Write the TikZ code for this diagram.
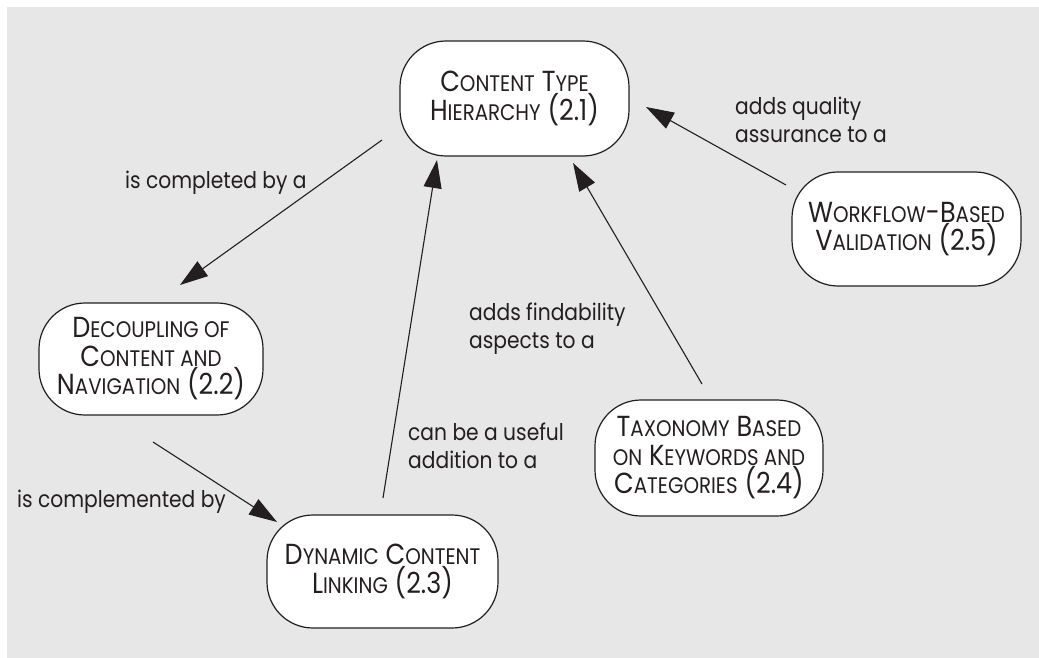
\documentclass[tikz,border=0pt]{standalone}
\usepackage{fontspec}
\setmainfont{Poppins}[FakeStretch=0.88]
\usetikzlibrary{arrows.meta}
\definecolor{panel}{HTML}{E6E7E6}
\definecolor{ink}{HTML}{231F20}
% small capitals built from a reduced upper-case size
\newcommand\lc[1]{{\fontsize{22.5bp}{22.5bp}\selectfont #1}}

\begin{document}
\begin{tikzpicture}[x=1bp,y=-1bp,
  topic/.style={draw=ink, line width=1.2bp, fill=white, rounded corners=46bp,
    align=center, inner sep=0pt, text=ink,
    font=\fontsize{29bp}{28.5bp}\selectfont},
  link/.style={draw=ink, line width=1.1bp, -{Triangle[length=28bp,width=18bp]}},
  lbl/.style={font=\fontsize{23bp}{28bp}\selectfont, text=ink, align=left,
    inner sep=0pt, anchor=north west}]
\useasboundingbox (0,0) rectangle (1039,658);
\fill[white] (0,0) rectangle (1039,658);
\fill[panel] (7,7) rectangle (1039,658);

% topics
\node[topic, minimum width=229bp, minimum height=115bp] (cth) at (514.5,98.5)
  {C\lc{ONTENT} T\lc{YPE}\\H\lc{IERARCHY} (2.1)};
\node[topic, minimum width=229bp, minimum height=114bp] (wbv) at (906.5,229)
  {W\lc{ORKFLOW}-B\lc{ASED}\\V\lc{ALIDATION} (2.5)};
\node[topic, minimum width=224bp, minimum height=112bp] (dec) at (151,359)
  {D\lc{ECOUPLING OF}\\C\lc{ONTENT AND}\\N\lc{AVIGATION} (2.2)};
\node[topic, minimum width=231bp, minimum height=113bp] (dcl) at (382.5,571.5)
  {D\lc{YNAMIC} C\lc{ONTENT}\\L\lc{INKING} (2.3)};
\node[topic, minimum width=228bp, minimum height=116bp] (tax) at (709,458)
  {T\lc{AXONOMY} B\lc{ASED}\\\lc{ON} K\lc{EYWORDS AND}\\C\lc{ATEGORIES} (2.4)};

% relations
\draw[link] ([shift={(-132.5,41.5)}]cth.center) -- ([shift={(29,-74)}]dec.center);
\draw[link] ([shift={(2,83)}]dec.center) -- ([shift={(-105.5,-49.5)}]dcl.center);
\draw[link] ([shift={(0.5,-73.5)}]dcl.center) -- ([shift={(-77.5,61.5)}]cth.center);
\draw[link] ([shift={(-7,-74)}]tax.center) -- ([shift={(58.5,64.5)}]cth.center);
\draw[link] ([shift={(-120.5,-44)}]wbv.center) -- ([shift={(131.5,8.5)}]cth.center);

% relation labels
\node[lbl] (l1) at (125,171) {is completed by a};
\node[lbl] (l2) at (17,490) {is complemented by};
\node[lbl] (l3) at (735,97) {adds quality\\assurance to a};
\node[lbl] (l4) at (408,423) {can be a useful\\addition to a};
\node[lbl] (l5) at (469,303) {adds findability\\aspects to a};
\end{tikzpicture}
\end{document}
